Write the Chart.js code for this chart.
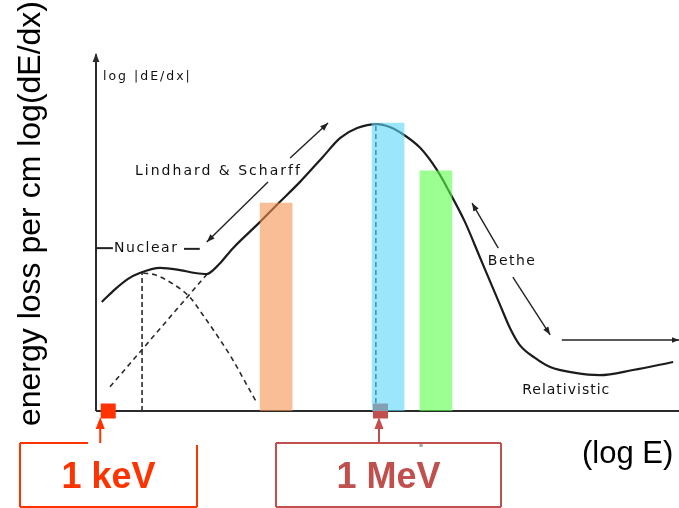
<!DOCTYPE html>
<html>
<head>
<meta charset="utf-8">
<script src="https://cdn.jsdelivr.net/npm/chart.js@4.4.0/dist/chart.umd.min.js"></script>
<style>
html, body { margin: 0; padding: 0; background: #fff; }
canvas { display: block; }
</style>
</head>
<body>
<canvas id="graph1" width="679" height="508"></canvas>
<script>
/*
    stopping power sketch: log(dE/dx) vs log(E), arbitrary units 0-100 on both axes
*/

// total stopping curve (nuclear bump, Lindhard & Scharff rise, Bethe fall, relativistic min)
const curveE = [1.0, 3.3, 5.5, 7.5, 11.0, 14.4, 17.0, 19.0, 20.1, 21.3, 23.5, 28.1, 31.0, 35.0, 38.9, 41.9, 44.8, 48.2, 50.4, 52.1, 55.6, 58.5, 60.7, 63.3, 65.9, 69.3, 71.0, 72.7, 75.3, 77.9, 82.2, 86.4, 92.1, 99.0];
const curveS = [29.8, 33.3, 36.1, 37.7, 39.1, 38.5, 37.7, 37.4, 38.5, 40.4, 44.5, 51.6, 56.3, 62.6, 69.4, 74.6, 77.3, 78.4, 77.6, 76.2, 71.9, 65.8, 59.6, 51.6, 41.8, 29.0, 22.7, 18.0, 14.5, 12.0, 10.4, 9.8, 11.2, 13.4];

// nuclear stopping (dashed)
const nuclearE = [8.1, 10.1, 12.7, 16.1, 18.7, 21.3, 23.5, 25.6, 27.6];
const nuclearS = [37.7, 37.2, 35.2, 31.1, 25.4, 19.4, 13.9, 7.9, 2.2];

// Lindhard & Scharff electronic part (dashed straight line)
const lindhardE = [2.4, 19.2];
const lindhardS = [6.6, 37.7];

// dashed drop lines at the nuclear maximum and the Bragg peak
const dropE = [7.9, 48.0];
const dropS = [37.9, 78.4];

// coloured bands
const bandE = [30.9, 50.1, 58.3];
const bandS = [56.8, 78.7, 65.6];

// energy markers on the axis
const markerE = [2.1, 48.8];
const markerLabels = ["1 keV", "1 MeV"];

function pts(xs, ys) {
    return xs.map((v, i) => ({ x: v, y: ys[i] }));
}

function head(ctx, x1, y1, x2, y2, size) {
    const a = Math.atan2(y2 - y1, x2 - x1);
    const w = size * 0.38;
    ctx.beginPath();
    ctx.moveTo(x2, y2);
    ctx.lineTo(x2 - size * Math.cos(a) + w * Math.sin(a), y2 - size * Math.sin(a) - w * Math.cos(a));
    ctx.lineTo(x2 - size * Math.cos(a) - w * Math.sin(a), y2 - size * Math.sin(a) + w * Math.cos(a));
    ctx.closePath();
    ctx.fill();
}

function seg(ctx, x1, y1, x2, y2) {
    ctx.beginPath();
    ctx.moveTo(x1, y1);
    ctx.lineTo(x2, y2);
    ctx.stroke();
}

const decor = {
    id: 'decor',
    beforeDatasetsDraw(chart) {
        const ctx = chart.ctx;
        const xs = chart.scales.x, ys = chart.scales.y;
        const X = v => xs.getPixelForValue(v), Y = v => ys.getPixelForValue(v);
        ctx.save();
        ctx.strokeStyle = '#2b2b2b';
        ctx.fillStyle = '#2b2b2b';
        ctx.lineWidth = 2;
        // axes
        seg(ctx, X(0), Y(0), X(0), Y(97.5));
        head(ctx, X(0), Y(0), X(0), Y(97.8), 9);
        seg(ctx, X(0), Y(0), X(100), Y(0));
        ctx.restore();
    },
    afterDatasetsDraw(chart) {
        const ctx = chart.ctx;
        const xs = chart.scales.x, ys = chart.scales.y;
        const X = v => xs.getPixelForValue(v), Y = v => ys.getPixelForValue(v);
        ctx.save();
        ctx.strokeStyle = '#222';
        ctx.fillStyle = '#222';
        ctx.lineWidth = 1.4;

        // Lindhard & Scharff double arrow (broken by the label)
        seg(ctx, X(19.0), Y(46.2), X(29.5), Y(62.6));
        head(ctx, X(29.5), Y(62.6), X(19.0), Y(46.2), 8);
        seg(ctx, X(33.3), Y(69.1), X(39.8), Y(78.7));
        head(ctx, X(33.3), Y(69.1), X(39.8), Y(78.7), 8);

        // Bethe arrows
        seg(ctx, X(69.0), Y(44.5), X(64.5), Y(56.8));
        head(ctx, X(69.0), Y(44.5), X(64.5), Y(56.8), 8);
        seg(ctx, X(71.5), Y(36.6), X(77.9), Y(20.8));
        head(ctx, X(71.5), Y(36.6), X(77.9), Y(20.8), 8);
        seg(ctx, X(79.9), Y(19.4), X(100), Y(19.4));
        head(ctx, X(79.9), Y(19.4), X(100), Y(19.4), 7);

        // Nuclear dashes
        ctx.lineWidth = 2;
        seg(ctx, X(0), Y(44.5), X(2.9), Y(44.5));
        seg(ctx, X(15.1), Y(44.3), X(17.8), Y(44.3));

        // scanned labels
        ctx.fillStyle = '#111';
        ctx.letterSpacing = '2px';
        ctx.textBaseline = 'middle';
        ctx.textAlign = 'left';
        ctx.font = '12.5px "DejaVu Sans"';
        ctx.fillText('log |dE/dx|', X(1.2), Y(91.3));
        ctx.font = '14px "DejaVu Sans"';
        ctx.fillText('Lindhard & Scharff', X(6.7), Y(65.6));
        ctx.letterSpacing = '1.5px';
        ctx.fillText('Nuclear', X(3.1), Y(44.5));
        ctx.fillText('Bethe', X(67.2), Y(41.0));
        ctx.letterSpacing = '1px';
        ctx.fillText('Relativistic', X(73.1), Y(5.7));
        ctx.letterSpacing = '0px';

        // axis titles
        ctx.fillStyle = '#000';
        ctx.font = '31px "Liberation Sans", Arial, sans-serif';
        ctx.textBaseline = 'alphabetic';
        ctx.fillText('(log E)', 582, 463);
        ctx.save();
        ctx.translate(40, 213.5);
        ctx.rotate(-Math.PI / 2);
        ctx.textAlign = 'center';
        ctx.font = '32px "Liberation Sans", Arial, sans-serif';
        ctx.fillText('energy loss per cm log(dE/dx)', 0, 0);
        ctx.restore();

        // callout boxes under the markers
        const boxCol = ['#ff3300', '#c0504d'];
        const stemOff = [-8, -1.5];
        const boxes = [[20, 197], [276, 501]];
        for (let i = 0; i < markerE.length; i++) {
            const col = boxCol[i];
            const sx = X(markerE[i]) + stemOff[i];
            ctx.strokeStyle = col;
            ctx.fillStyle = col;
            ctx.lineWidth = 2;
            const [l, r] = boxes[i];
            if (i === 0) {
                seg(ctx, l, 443, 88, 443);
                seg(ctx, r, 445, r, 507);
            } else {
                seg(ctx, l, 443, r, 443);
                seg(ctx, r, 443, r, 507);
            }
            seg(ctx, l, 443, l, 507);
            seg(ctx, l, 507, r, 507);
            seg(ctx, sx, 443, sx, 428);
            head(ctx, sx, 443, sx, 417, 12);
            ctx.font = 'bold 36px "Liberation Sans", Arial, sans-serif';
            ctx.textAlign = 'center';
            ctx.fillText(markerLabels[i], (l + r) / 2, 488);
        }
        ctx.fillStyle = '#555';
        ctx.font = '10px "DejaVu Sans"';
        ctx.textAlign = 'center';
        ctx.fillText('"', 421, 452);
        ctx.restore();
    }
};

const g1 = new Chart("graph1", {
    type: "line",
    data: {
        datasets: [{
            type: "bar",
            label: "bands",
            data: pts(bandE, bandS),
            backgroundColor: ["rgba(247,147,80,0.6)", "rgba(88,213,247,0.6)", "rgba(88,255,72,0.6)"],
            borderWidth: 0,
            barThickness: 32
            },
            {
            label: "markers",
            data: pts(markerE, markerE.map(() => 0)),
            showLine: false,
            pointStyle: "rect",
            pointRadius: 10.6,
            pointBorderWidth: 0,
            pointBackgroundColor: ["#ff3300", "#c0504d"],
            clip: false
            },
            {
            label: "total",
            data: pts(curveE, curveS),
            borderColor: "#1c1c1c",
            borderWidth: 2.2,
            pointRadius: 0,
            cubicInterpolationMode: "monotone"
            },
            {
            label: "nuclear",
            data: pts(nuclearE, nuclearS),
            borderColor: "#2a2a2a",
            borderWidth: 1.6,
            borderDash: [5, 4],
            pointRadius: 0,
            cubicInterpolationMode: "monotone"
            },
            {
            label: "lindhard",
            data: pts(lindhardE, lindhardS),
            borderColor: "#2a2a2a",
            borderWidth: 1.6,
            borderDash: [5, 4],
            pointRadius: 0
            },
            {
            label: "drop1",
            data: [{ x: dropE[0], y: 0 }, { x: dropE[0], y: dropS[0] }],
            borderColor: "#2a2a2a",
            borderWidth: 1.6,
            borderDash: [5, 3],
            pointRadius: 0
            },
            {
            label: "drop2",
            data: [{ x: dropE[1], y: 0 }, { x: dropE[1], y: dropS[1] }],
            borderColor: "#1a3c5a",
            borderWidth: 1.6,
            borderDash: [5, 3],
            pointRadius: 0
            }]
    },
    options: {
        responsive: false,
        animation: false,
        devicePixelRatio: 1,
        layout: { autoPadding: false, padding: { left: 96, right: 0, top: 45, bottom: 97 } },
        scales: {
            x: { type: "linear", min: 0, max: 100, offset: false, display: false },
            y: { type: "linear", min: 0, max: 100, display: false }
        },
        plugins: {
            legend: { display: false },
            tooltip: { enabled: false }
        }
    },
    plugins: [decor]
});
</script>
</body>
</html>
